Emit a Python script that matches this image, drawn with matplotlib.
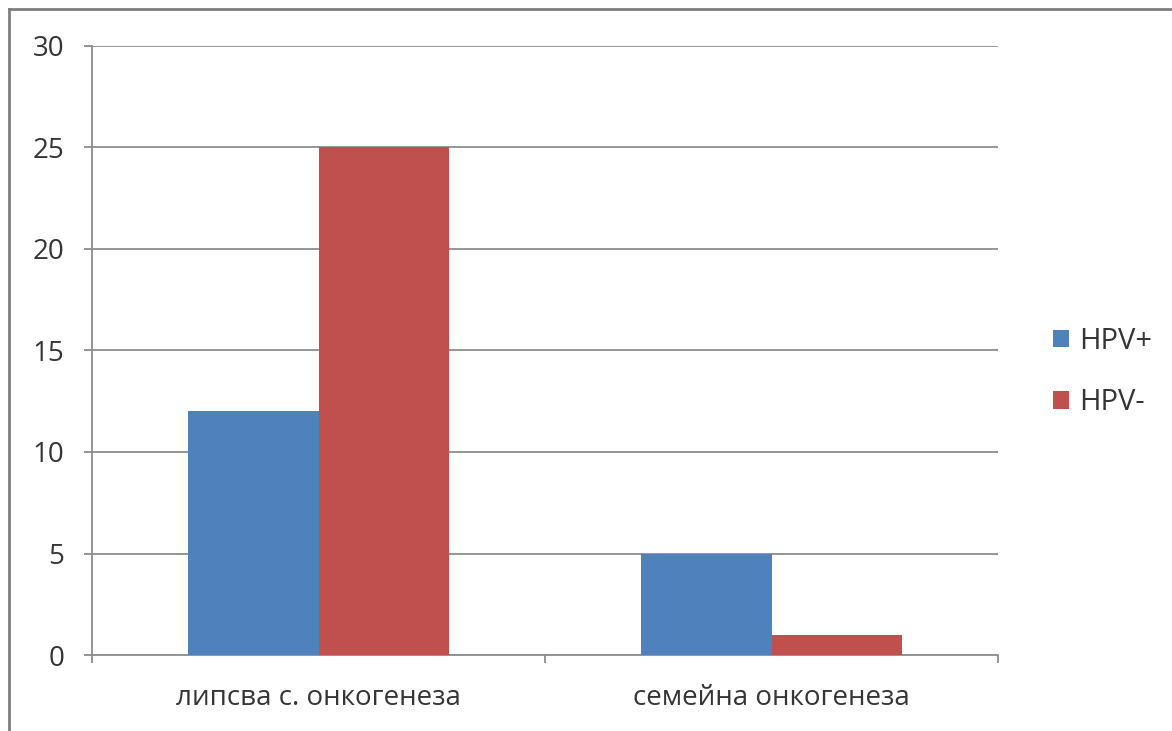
import matplotlib
matplotlib.use("Agg")
import matplotlib.pyplot as plt
import numpy as np

categories = ["липсва с. онкогенеза", "семейна онкогенеза"]
series_names = ["HPV+", "HPV-"]
hpv_pos = [12, 5]
hpv_neg = [25, 1]
y_ticks = [0, 5, 10, 15, 20, 25, 30]

colors = ["#4F81BD", "#C0504D"]
grid_color = "#8c8c8c"
text_color = "#353535"

plt.rcParams["font.family"] = ["Open Sans", "DejaVu Sans"]

fig = plt.figure(figsize=(11.72, 7.31), dpi=100)
fig.patch.set_facecolor("white")

# outer frame of the chart area (only top and left edges visible)
fig.add_artist(plt.Line2D([9 / 1172, 9 / 1172], [0, 1 - 9 / 731], transform=fig.transFigure,
                          color="#7f7f7f", lw=2.0))
fig.add_artist(plt.Line2D([9 / 1172, 1], [1 - 9 / 731, 1 - 9 / 731], transform=fig.transFigure,
                          color="#7f7f7f", lw=2.0))

ax = fig.add_axes([92 / 1172, 1 - 655 / 731, (998 - 92) / 1172, (655 - 46) / 731])

x = np.arange(len(categories))
w = 0.287
ax.bar(x - w / 2, hpv_pos, w, color=colors[0], label=series_names[0], zorder=3)
ax.bar(x + w / 2, hpv_neg, w, color=colors[1], label=series_names[1], zorder=3)

ax.set_xlim(-0.5, len(categories) - 0.5)
ax.set_ylim(0, 30)
ax.set_yticks(y_ticks)
ax.set_yticklabels([str(t) for t in y_ticks], fontsize=20, color=text_color)
ax.yaxis.grid(True, color=grid_color, lw=1.3, zorder=0)
ax.set_axisbelow(True)

# category labels between boundary ticks
ax.set_xticks(np.arange(-0.5, len(categories)), minor=False)
ax.set_xticklabels([""] * (len(categories) + 1))
ax.set_xticks(x, minor=True)
ax.set_xticklabels(categories, minor=True, fontsize=20, color=text_color)
ax.tick_params(axis="x", which="minor", length=0, pad=21)
ax.tick_params(axis="x", which="major", length=6, color=grid_color, width=1.3)
ax.tick_params(axis="y", length=6, color=grid_color, width=1.3, pad=14)

for side in ["top", "right"]:
    ax.spines[side].set_visible(False)
ax.spines["left"].set_color(grid_color)
ax.spines["left"].set_linewidth(1.3)
ax.spines["bottom"].set_color(grid_color)
ax.spines["bottom"].set_linewidth(1.3)

leg = fig.legend(loc="center left", bbox_to_anchor=(1027 / 1172, 1 - 372 / 731),
                 frameon=False, fontsize=21, handlelength=0.55, handleheight=0.55,
                 handletextpad=0.35, labelspacing=1.1, labelcolor=text_color)

fig.savefig("out.png", dpi=100, facecolor="white")
